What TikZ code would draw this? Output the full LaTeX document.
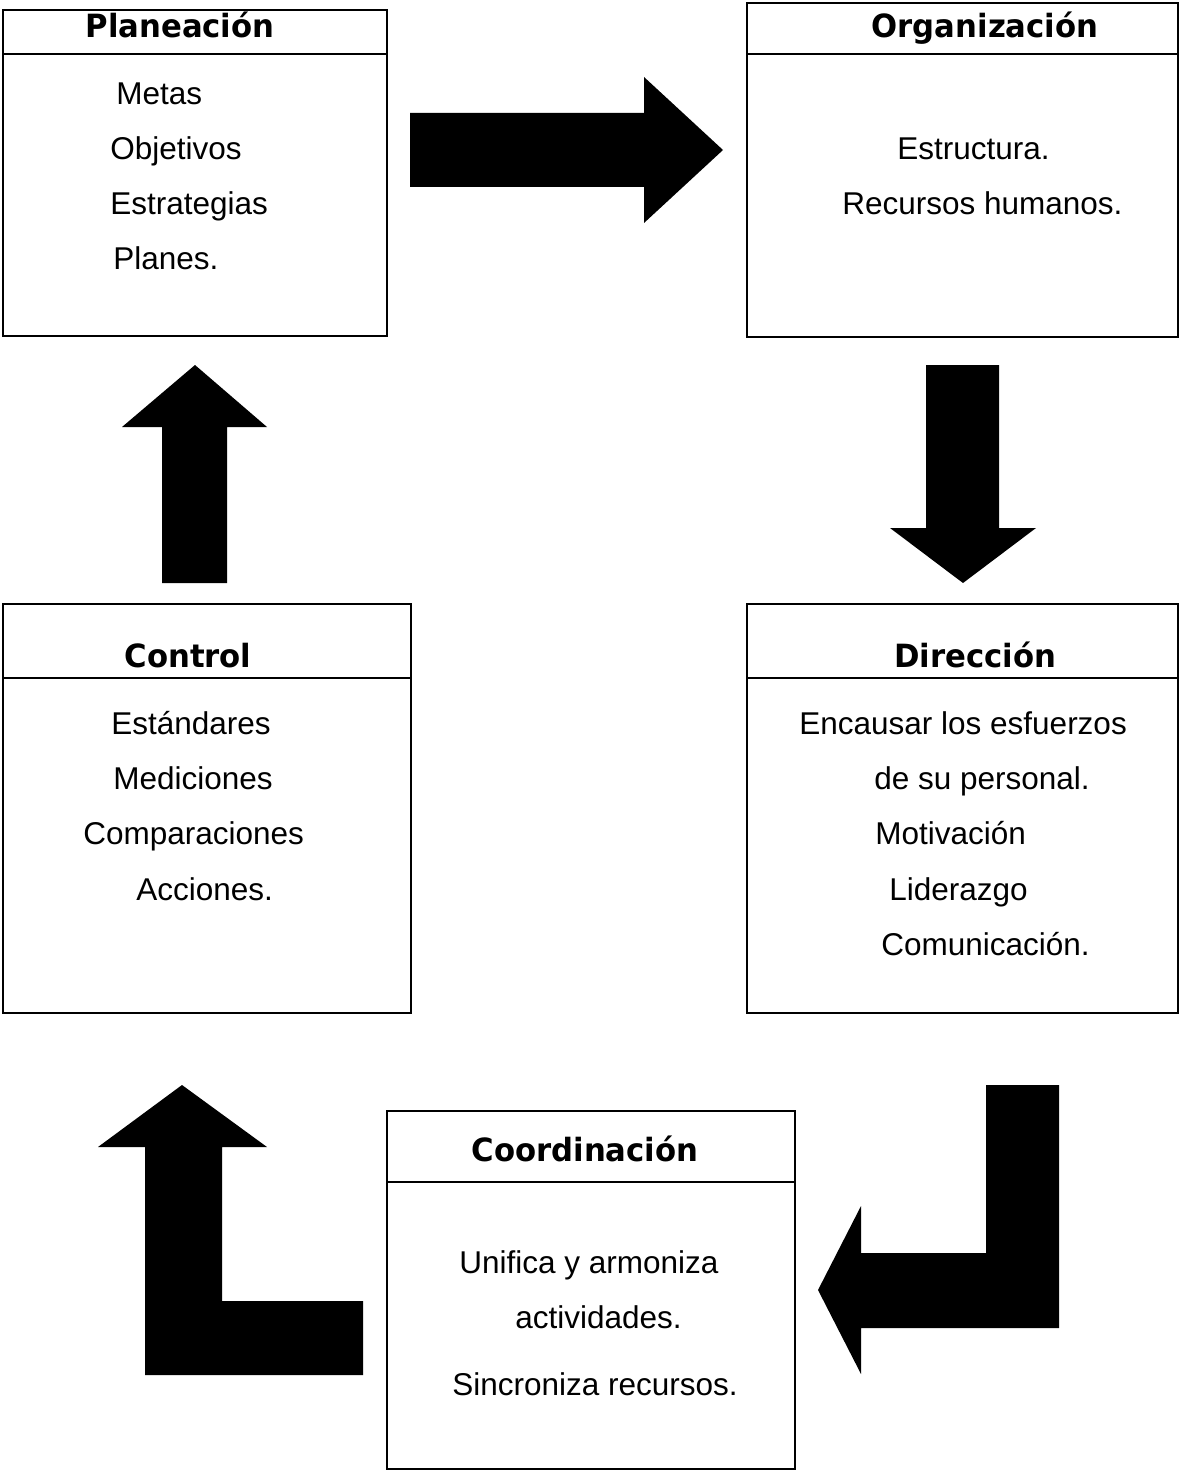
\documentclass[tikz,border=0pt]{standalone}
\usepackage{fontspec}
\setmainfont{Liberation Sans}
\newfontfamily\headfont{DejaVu Sans}[FakeStretch=0.96]
\tikzset{
  box/.style={draw, line width=0.8pt, inner sep=0pt},
  divider/.style={line width=0.8pt},
  head/.style={font=\headfont\bfseries\fontsize{16pt}{19pt}\selectfont, anchor=base, inner sep=0pt},
  item/.style={font=\fontsize{15.75pt}{19pt}\selectfont, anchor=base west, inner sep=0pt},
  blockarrow/.style={fill=black, draw=none}
}
\begin{document}
\begin{tikzpicture}[x=0.5pt, y=-0.5pt]
\useasboundingbox (0,0) rectangle (1181,1471);
\fill[white] (0,0) rectangle (1181,1471);

% Planeación
\node[box, minimum width=192pt, minimum height=163pt] (plan) at (195,173) {};
\draw[divider] (3,54) -- (387,54);
\node[head] (planT) at (180,38) {Planeación};
\node[item] (plan1) at (116,105) {Metas};
\node[item] (plan2) at (110,160) {Objetivos};
\node[item] (plan3) at (110,215) {Estrategias};
\node[item] (plan4) at (113,270) {Planes.};

% Organización
\node[box, minimum width=215.5pt, minimum height=167pt] (org) at (962.5,170) {};
\draw[divider] (747,54) -- (1178,54);
\node[head] (orgT) at (985,38) {Organización};
\node[item] (org1) at (897,160) {Estructura.};
\node[item] (org2) at (842,215) {Recursos humanos.};

% Control
\node[box, minimum width=204pt, minimum height=204.5pt] (ctl) at (207,808.5) {};
\draw[divider] (3,678) -- (411,678);
\node[head] (ctlT) at (188,667) {Control};
\node[item] (ctl1) at (111,734) {Estándares};
\node[item] (ctl2) at (113,789) {Mediciones};
\node[item] (ctl3) at (83,844) {Comparaciones};
\node[item] (ctl4) at (136,900) {Acciones.};

% Dirección
\node[box, minimum width=215.5pt, minimum height=204.5pt] (dir) at (962.5,808.5) {};
\draw[divider] (747,678) -- (1178,678);
\node[head] (dirT) at (975,667) {Dirección};
\node[item] (dir1) at (799,734) {Encausar los esfuerzos};
\node[item] (dir2) at (874,789) {de su personal.};
\node[item] (dir3) at (875,844) {Motivación};
\node[item] (dir4) at (889,900) {Liderazgo};
\node[item] (dir5) at (881,955) {Comunicación.};

% Coordinación
\node[box, minimum width=204pt, minimum height=179pt] (coo) at (591,1290) {};
\draw[divider] (387,1182) -- (795,1182);
\node[head] (cooT) at (585,1161) {Coordinación};
\node[item] (coo1) at (459,1273) {Unifica y armoniza};
\node[item] (coo2) at (515,1328) {actividades.};
\node[item] (coo3) at (452,1395) {Sincroniza recursos.};

% Block arrows of the cycle
\fill[blockarrow] (410,113) -- (644,113) -- (644,77) -- (723,150) -- (644,223) -- (644,187) -- (410,187) -- cycle;
\fill[blockarrow] (926,365) -- (999,365) -- (999,528) -- (1036,528) -- (963,583) -- (890,528) -- (926,528) -- cycle;
\fill[blockarrow] (986,1085) -- (1059,1085) -- (1059,1328) -- (861,1328) -- (861,1374) -- (818,1290) -- (861,1206) -- (861,1253) -- (986,1253) -- cycle;
\fill[blockarrow] (182,1085) -- (267,1147) -- (222,1147) -- (222,1301) -- (363,1301) -- (363,1375) -- (145,1375) -- (145,1147) -- (98,1147) -- cycle;
\fill[blockarrow] (162,583) -- (162,427) -- (122,427) -- (195,365) -- (267,427) -- (227,427) -- (227,583) -- cycle;
\end{tikzpicture}
\end{document}
